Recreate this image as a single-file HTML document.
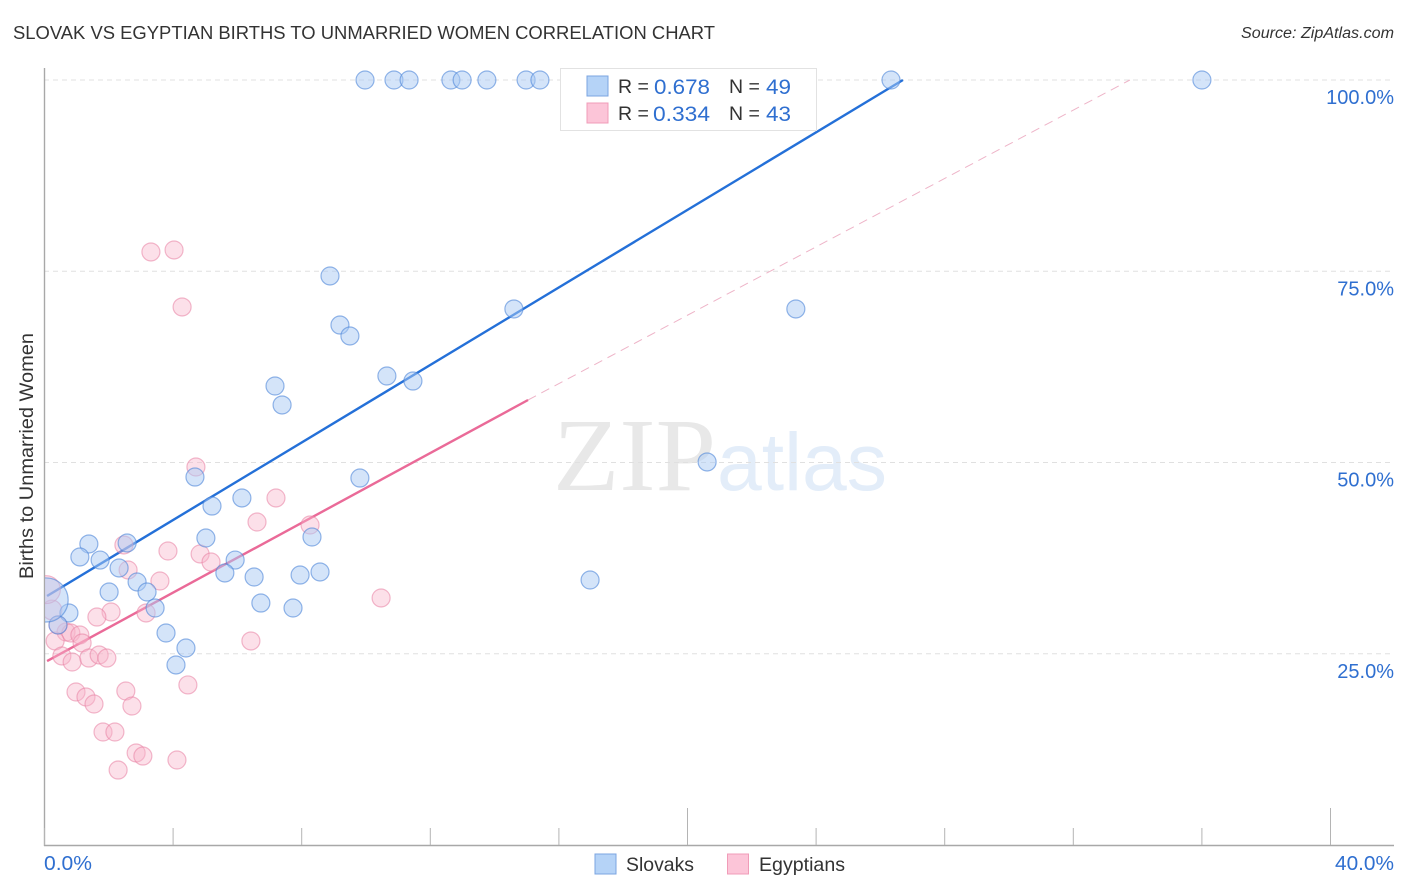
<!DOCTYPE html>
<html lang="en">
<head>
<meta charset="utf-8">
<title>Slovak vs Egyptian Births to Unmarried Women Correlation Chart</title>
<style>
html,body{margin:0;padding:0;background:#fff;width:1406px;height:892px;overflow:hidden}
svg{display:block}
text{font-family:"Liberation Sans",sans-serif}
</style>
</head>
<body>
<svg id="chart" width="1406" height="892" viewBox="0 0 1406 892" xmlns="http://www.w3.org/2000/svg">
  <defs><clipPath id="plot-clip"><rect x="45" y="60" width="1350" height="785"/></clipPath></defs>
  <text x="13" y="39" font-size="18.5" fill="#333" textLength="702" lengthAdjust="spacingAndGlyphs">SLOVAK VS EGYPTIAN BIRTHS TO UNMARRIED WOMEN CORRELATION CHART</text>
  <text x="1241" y="38" font-size="15.5" font-style="italic" fill="#333" textLength="153" lengthAdjust="spacingAndGlyphs">Source: ZipAtlas.com</text>
  <g>
    <text x="553" y="490" font-size="104" fill="#e8e8e8" style="font-family:'Liberation Serif',serif" textLength="163" lengthAdjust="spacingAndGlyphs">ZIP</text>
    <text x="717" y="490" font-size="82" fill="#e3edf9" textLength="170" lengthAdjust="spacingAndGlyphs">atlas</text>
  </g>
  <g id="grid"></g>
  <g id="axes"></g>
  <g id="trends"></g>
  <g id="pink-points" clip-path="url(#plot-clip)"></g>
  <g id="blue-points" clip-path="url(#plot-clip)"></g>
  <g id="labels"></g>
  <text transform="translate(33,579) rotate(-90)" font-size="19" fill="#333" textLength="246" lengthAdjust="spacingAndGlyphs">Births to Unmarried Women</text>

  <g>
    <rect x="560.5" y="68.5" width="256" height="62" fill="#fff" stroke="#e2e2e2"/>
    <rect x="587" y="76" width="21" height="20" fill="#b5d3f7" stroke="#7ba5e0"/>
    <rect x="587" y="103" width="21" height="20" fill="#fcc5d8" stroke="#f09cb8"/>
    <text x="618" y="93" font-size="19.5" fill="#333">R =</text>
    <text x="654" y="94" font-size="21" fill="#2f6fd0" textLength="56" lengthAdjust="spacingAndGlyphs">0.678</text>
    <text x="729" y="93" font-size="19.5" fill="#333">N =</text>
    <text x="766" y="94" font-size="21" fill="#2f6fd0" textLength="25" lengthAdjust="spacingAndGlyphs">49</text>
    <text x="618" y="120" font-size="19.5" fill="#333">R =</text>
    <text x="653" y="121" font-size="21" fill="#2f6fd0" textLength="57" lengthAdjust="spacingAndGlyphs">0.334</text>
    <text x="729" y="120" font-size="19.5" fill="#333">N =</text>
    <text x="766" y="121" font-size="21" fill="#2f6fd0" textLength="25" lengthAdjust="spacingAndGlyphs">43</text>
  </g>

  <g>
    <rect x="595" y="854" width="21" height="20" fill="#b5d3f7" stroke="#7ba5e0"/>
    <text x="626" y="871" font-size="19.5" fill="#333" textLength="68" lengthAdjust="spacingAndGlyphs">Slovaks</text>
    <rect x="727.5" y="854" width="21" height="20" fill="#fcc5d8" stroke="#f09cb8"/>
    <text x="759" y="871" font-size="19.5" fill="#333" textLength="86" lengthAdjust="spacingAndGlyphs">Egyptians</text>
  </g>
</svg>
<script>
const yTickValues = [25, 50, 75, 100];
const yTickLabels = ["25.0%", "50.0%", "75.0%", "100.0%"];
const xMinorTicks = [0, 4, 8, 12, 16, 24, 28, 32, 36];
const xMajorTicks = [20, 40];
const xEndLabels = ["0.0%", "40.0%"];

const slovakX = [9.97,10.87,11.34,12.64,12.99,13.76,14.98,15.41,26.33,36.00,8.88,9.19,9.50,7.17,7.39,10.65,11.46,14.60,23.37,20.61,9.81,4.68,5.21,6.14,5.02,8.32,2.57,1.38,1.10,1.73,2.32,5.93,5.61,6.52,7.95,8.57,16.97,2.88,2.01,3.19,3.44,6.73,7.73,0.76,0.42,3.78,4.40,4.09,0.05];
const slovakY = [100,100,100,100,100,100,100,100,100,100,74.38,67.97,66.54,60.0,57.52,61.31,60.65,70.07,70.07,50.07,47.97,48.10,44.31,45.36,40.13,40.26,39.48,39.35,37.65,37.25,36.21,37.25,35.56,35.03,35.29,35.69,34.64,34.38,33.07,33.07,30.98,31.63,30.98,30.33,28.76,27.71,25.75,23.53,32.03];
const slovakWeight = [1,1,1,1,1,1,1,1,1,1,1,1,1,1,1,1,1,1,1,1,1,1,1,1,1,1,1,1,1,1,1,1,1,1,1,1,1,1,1,1,1,1,1,1,1,1,1,1,6];

const egyptianX = [3.31,4.03,4.28,4.71,7.20,6.61,8.26,2.47,3.84,4.84,5.18,2.60,3.59,10.47,2.07,3.16,1.63,0.23,0.67,0.82,1.10,1.17,0.33,6.42,0.54,0.86,1.38,1.70,1.94,4.46,2.53,0.98,1.29,1.54,2.72,1.82,2.19,2.85,3.06,4.12,2.29,0.06,0.42];
const egyptianY = [77.52,77.78,70.33,49.41,45.36,42.22,41.83,39.22,38.43,38.04,36.99,35.95,34.51,32.29,30.46,30.33,29.80,30.72,27.84,27.71,27.45,26.41,26.67,26.67,24.71,23.92,24.44,24.84,24.44,20.92,20.13,20.0,19.35,18.43,18.17,14.77,14.77,12.03,11.63,11.11,9.80,33.38,28.76];
const egyptianWeight = [1,1,1,1,1,1,1,1,1,1,1,1,1,1,1,1,1,1.2,1,1,1,1,1,1,1,1,1,1,1,1,1,1,1,1,1,1,1,1,1,1,1,2.4,1];

const slovakTrendX = [0.08, 26.70];
const slovakTrendY = [32.55, 100];
const egyptianTrendX = [0.08, 15.04];
const egyptianTrendY = [24.05, 58.17];
const egyptianExtensionX = [15.04, 33.76];
const egyptianExtensionY = [58.17, 100];

const NS = "http://www.w3.org/2000/svg";
function xScale(v){ return 44.5 + v * 32.15; }
function yScale(v){ return 845 - v * 7.65; }
function radius(w){ return 9 * Math.sqrt(w); }
function make(tag, attrs, parent){
  const el = document.createElementNS(NS, tag);
  for (const k in attrs) el.setAttribute(k, attrs[k]);
  parent.appendChild(el);
  return el;
}
const gridG = document.getElementById("grid");
const axesG = document.getElementById("axes");
const trendG = document.getElementById("trends");
const labelsG = document.getElementById("labels");
const blueG = document.getElementById("blue-points");
const pinkG = document.getElementById("pink-points");

yTickValues.forEach(function(v, i){
  const y = yScale(v);
  const line = make("line", {x1:44, x2:1394, y1:y, y2:y, stroke:"#e0e0e0", "stroke-width":1, "stroke-dasharray":"5 4"}, gridG);
  
  
  const t = make("text", {x:1394, y:y + 24, "font-size":20, fill:"#2f6fd0", "text-anchor":"end"}, labelsG);
  t.textContent = yTickLabels[i];
  
  
});

const yAxis = make("line", {x1:44.5, x2:44.5, y1:68, y2:846, stroke:"#a8a8a8", "stroke-width":1.4}, axesG);


const xAxis = make("line", {x1:44, x2:1394, y1:845.5, y2:845.5, stroke:"#a8a8a8", "stroke-width":1.4}, axesG);



xMinorTicks.forEach(function(v){
  const x = xScale(v);
  const tick = make("line", {x1:x, x2:x, y1:828, y2:845, stroke:"#b4b4b4", "stroke-width":1}, axesG);
  
  
});
xMajorTicks.forEach(function(v){
  const x = xScale(v);
  const tick = make("line", {x1:x, x2:x, y1:808, y2:845, stroke:"#b4b4b4", "stroke-width":1}, axesG);
  
  
});

const xLabelLeft = make("text", {x:44, y:870, "font-size":20, fill:"#2f6fd0", textLength:48, lengthAdjust:"spacingAndGlyphs"}, labelsG);
xLabelLeft.textContent = xEndLabels[0];


const xLabelRight = make("text", {x:1335, y:870, "font-size":20, fill:"#2f6fd0", textLength:59, lengthAdjust:"spacingAndGlyphs"}, labelsG);
xLabelRight.textContent = xEndLabels[1];



const blueTrend = make("line", {x1:xScale(slovakTrendX[0]), y1:yScale(slovakTrendY[0]), x2:xScale(slovakTrendX[1]), y2:yScale(slovakTrendY[1]), stroke:"#2470d8", "stroke-width":2.4}, trendG);


const pinkExt = make("line", {x1:xScale(egyptianExtensionX[0]), y1:yScale(egyptianExtensionY[0]), x2:xScale(egyptianExtensionX[1]), y2:yScale(egyptianExtensionY[1]), stroke:"#eeb4c8", "stroke-width":1, "stroke-dasharray":"9 6"}, trendG);


const pinkTrend = make("line", {x1:xScale(egyptianTrendX[0]), y1:yScale(egyptianTrendY[0]), x2:xScale(egyptianTrendX[1]), y2:yScale(egyptianTrendY[1]), stroke:"#ea6a98", "stroke-width":2.4}, trendG);



egyptianX.forEach(function(v, i){
  const c = make("circle", {cx:xScale(v), cy:yScale(egyptianY[i]), r:radius(egyptianWeight[i]), fill:"#f9b4cb", "fill-opacity":0.42, stroke:"#e87fa3", "stroke-opacity":0.55, "stroke-width":1.2}, pinkG);
  
  
});
slovakX.forEach(function(v, i){
  const c = make("circle", {cx:xScale(v), cy:yScale(slovakY[i]), r:radius(slovakWeight[i]), fill:"#a9caf3", "fill-opacity":0.5, stroke:"#4c86d8", "stroke-opacity":0.6, "stroke-width":1.2}, blueG);
  
  
});
</script>
</body>
</html>
